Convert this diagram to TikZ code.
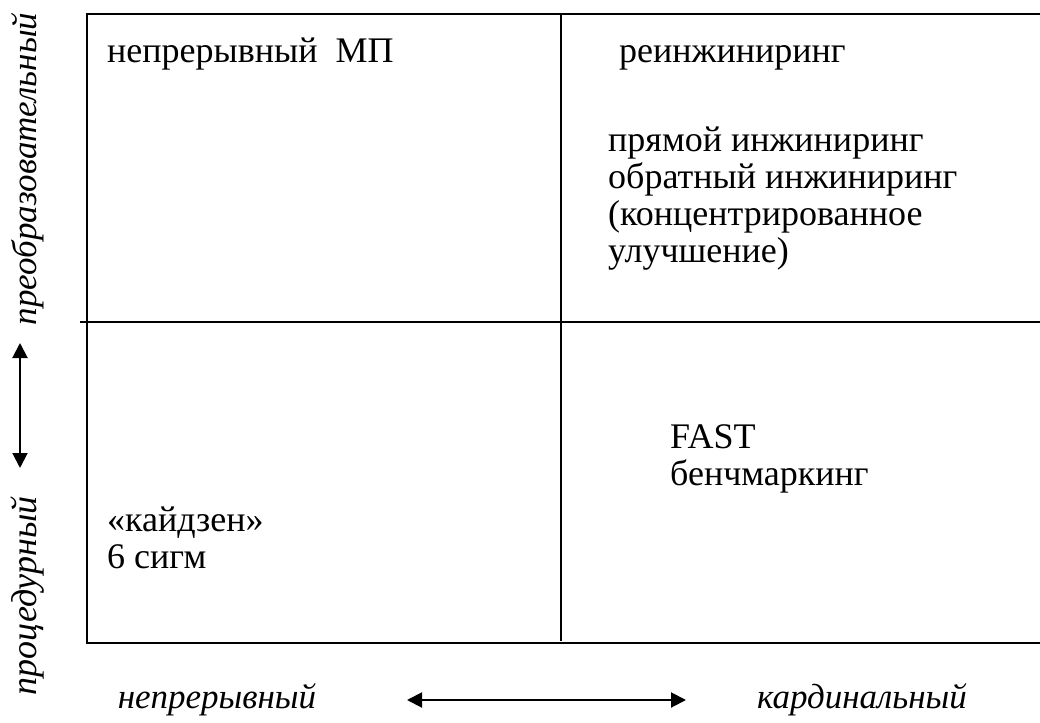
\documentclass[tikz,border=0pt]{standalone}
\usepackage{fontspec}
\setmainfont{Liberation Serif}
\usetikzlibrary{arrows.meta}
\begin{document}
\begin{tikzpicture}[x=1pt,y=-1pt,
  grid/.style={line width=2.2pt},
  lbl/.style={font=\fontsize{36}{37}\selectfont, inner sep=0pt, anchor=base west, align=left},
  axis/.style={font=\fontsize{35}{37}\selectfont\itshape, inner sep=0pt},
  dbl/.style={line width=2pt, {Triangle[length=15pt,width=15pt]}-{Triangle[length=15pt,width=15pt]}}]
\useasboundingbox (0,0) rectangle (1040,722);
% frame
\coordinate (tl) at (87,14);
\coordinate (tr) at (1040,14);
\coordinate (bl) at (87,643);
\coordinate (br) at (1040,643);
\coordinate (mt) at (561,14);
\coordinate (mb) at (561,641);
\coordinate (ml) at (80,322);
\coordinate (mr) at (1040,322);
\draw[grid] (tr) -- (tl) -- (bl) -- (br);
\draw[grid] (mt) -- (mb);
\draw[grid] (ml) -- (mr);
% texts (anchor = baseline of last line)
\node[lbl] (q1) at (107,63) {непрерывный\ \ МП};
\node[lbl] (q2) at (619,63) {реинжиниринг};
\node[lbl] (q2b) at (608,262) {прямой инжиниринг\\обратный инжиниринг\\(концентрированное\\улучшение)};
\node[lbl] (q4) at (670,485) {FAST\\бенчмаркинг};
\node[lbl] (q3) at (107,568) {«кайдзен»\\6 сигм};
% axis labels
\node[axis, rotate=90] (yt) at (28,169) {преобразовательный};
\node[axis, rotate=90, font=\fontsize{36}{37}\selectfont\itshape] (yb) at (28,596) {процедурный};
\node[axis] (xl) at (217,700) {непрерывный};
\node[axis] (xr) at (862,700) {кардинальный};
% arrows
\coordinate (va) at (20,343);
\coordinate (vb) at (20,468);
\draw[dbl] (va) -- (vb);
\coordinate (ha) at (407,700);
\coordinate (hb) at (686,700);
\draw[dbl] (ha) -- (hb);
\end{tikzpicture}
\end{document}
